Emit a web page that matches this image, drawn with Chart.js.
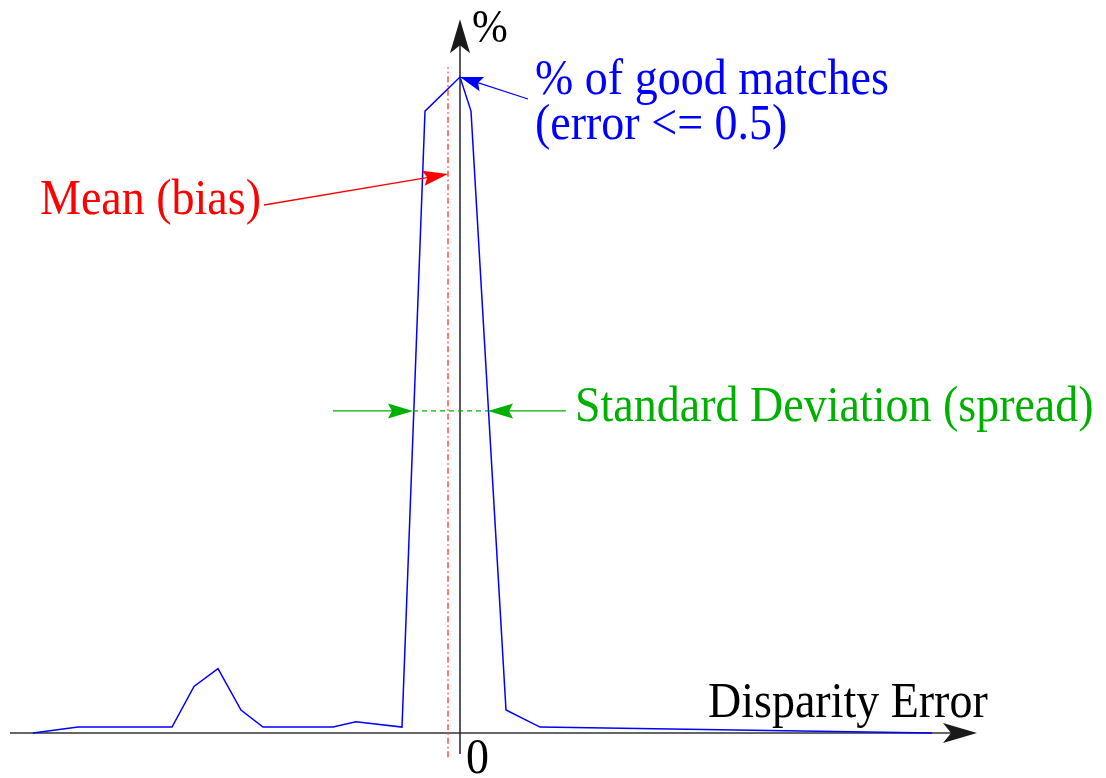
<!DOCTYPE html>
<html>
<head>
<meta charset="utf-8">
<script src="https://cdn.jsdelivr.net/npm/chart.js@4"></script>
<style>
  body { margin: 0; background: #fff; }
  canvas { display: block; }
</style>
</head>
<body>
<canvas id="histChart" width="1106" height="778"></canvas>
<script>
// histogram of disparity error (normalised, peak = 100)
const disparityError = [-42.7, -38.2, -28.8, -26.6, -24.2, -21.9, -19.7, -12.7, -10.4, -5.8, -3.5, 0, 1.1, 4.6, 8.0, 47.2]
const percentage = [0, 0.9, 0.9, 7.1, 9.8, 3.5, 0.9, 0.9, 1.7, 0.9, 94.8, 100, 94.8, 3.5, 0.9, 0]

const meanBias = -1.2
const meanLine = [-3.7, 101.5]
const meanArrowLevel = 85.2
const spread = [-4.7, 2.8]
const spreadLevel = 49.1

const xRange = [-46, 64.6]
const yRange = [-6.86, 111.74]
const xAxisExtent = [-45, 51.7]
const yAxisExtent = [-3.2, 108.8]

const serif = '"Liberation Serif", "Times New Roman", serif'

function arrowHead(ctx, tipX, tipY, fromX, fromY, len, half, notch, color) {
    const angle = Math.atan2(tipY - fromY, tipX - fromX)
    ctx.save()
    ctx.translate(tipX, tipY)
    ctx.rotate(angle)
    ctx.fillStyle = color
    ctx.beginPath()
    ctx.moveTo(0, 0)
    ctx.lineTo(-len, -half)
    ctx.lineTo(-len + notch, 0)
    ctx.lineTo(-len, half)
    ctx.closePath()
    ctx.fill()
    ctx.restore()
}

function line(ctx, x1, y1, x2, y2, color, width, dash) {
    ctx.save()
    ctx.strokeStyle = color
    ctx.lineWidth = width
    ctx.setLineDash(dash || [])
    ctx.beginPath()
    ctx.moveTo(x1, y1)
    ctx.lineTo(x2, y2)
    ctx.stroke()
    ctx.restore()
}

// text slightly taller than wide, like the original figure
function label(ctx, text, x, y, size, color) {
    ctx.save()
    ctx.font = size + "px " + serif
    ctx.fillStyle = color
    ctx.translate(x, y)
    ctx.scale(1, 1.08)
    ctx.fillText(text, 0, 0)
    ctx.restore()
}

const axesPlugin = {
    id: "axesPlugin",
    beforeDatasetsDraw(chart) {
        const ctx = chart.ctx
        const xs = chart.scales.x
        const ys = chart.scales.y
        const x0 = xs.getPixelForValue(0)
        const y0 = ys.getPixelForValue(0)

        // horizontal axis
        const xl = xs.getPixelForValue(xAxisExtent[0])
        const xr = xs.getPixelForValue(xAxisExtent[1])
        line(ctx, xl, y0, xr - 20, y0, "#333", 1.5)
        arrowHead(ctx, xr, y0, xl, y0, 34, 10, 8, "#1a1a1a")

        // vertical axis
        const yb = ys.getPixelForValue(yAxisExtent[0])
        const yt = ys.getPixelForValue(yAxisExtent[1])
        line(ctx, x0, yb, x0, yt + 20, "#222", 1.5)
        arrowHead(ctx, x0, yt, x0, yb, 34, 10, 8, "#1a1a1a")

        // mean (bias) dash-dot line
        const xm = xs.getPixelForValue(meanBias)
        line(ctx, xm, ys.getPixelForValue(meanLine[0]), xm, ys.getPixelForValue(meanLine[1]), "#ff4d4d", 1.5, [6, 3, 1.5, 3])

        label(ctx, "Disparity Error", 708, 717, 46, "#000")
        label(ctx, "0", 466, 773, 46, "#000")
        label(ctx, "%", 472, 42, 43, "#000")
    },
    afterDatasetsDraw(chart) {
        const ctx = chart.ctx
        const xs = chart.scales.x
        const ys = chart.scales.y

        // % of good matches
        const px = xs.getPixelForValue(0)
        const py = ys.getPixelForValue(100)
        line(ctx, 528, 99, px + 10, py + 3, "#0000ff", 1.3)
        arrowHead(ctx, px, py, 528, 99, 23, 7.5, 4, "#0000ff")

        // mean (bias)
        const mx = xs.getPixelForValue(meanBias)
        const my = ys.getPixelForValue(meanArrowLevel)
        line(ctx, 264, 205, mx - 15, my + 2.5, "#ff0000", 1.3)
        arrowHead(ctx, mx, my, 264, 205, 25, 7.5, 4, "#ff0000")

        // standard deviation (spread)
        const sl = xs.getPixelForValue(spread[0])
        const sr = xs.getPixelForValue(spread[1])
        const sy = ys.getPixelForValue(spreadLevel)
        line(ctx, 333, sy, sl - 15, sy, "#00b000", 1.3)
        arrowHead(ctx, sl, sy, 333, sy, 25, 7.5, 4, "#00b000")
        line(ctx, 566, sy, sr + 15, sy, "#00b000", 1.3)
        arrowHead(ctx, sr, sy, 566, sy, 25, 7.5, 4, "#00b000")
        line(ctx, sl, sy, sr, sy, "#00b000", 1.3, [5, 4])

        label(ctx, "% of good matches", 535, 94, 46, "#0000ff")
        label(ctx, "(error <= 0.5)", 535, 139, 46, "#0000ff")
        label(ctx, "Mean (bias)", 40, 214, 46, "#ff0000")
        label(ctx, "Standard Deviation (spread)", 575, 421, 46, "#00b000")
    }
}

function main() {
    const points = disparityError.map((x, i) => ({ x: x, y: percentage[i] }))

    new Chart(document.getElementById("histChart"), {
        type: "scatter",
        data: {
            datasets: [
                {
                    data: points,
                    showLine: true,
                    borderColor: "#0000ff",
                    borderWidth: 1.5,
                    pointRadius: 0,
                    tension: 0,
                    clip: false,
                },
            ],
        },
        options: {
            responsive: false,
            animation: false,
            layout: { padding: 0 },
            plugins: {
                legend: { display: false },
                tooltip: { enabled: false },
            },
            scales: {
                x: { type: "linear", display: false, min: xRange[0], max: xRange[1] },
                y: { type: "linear", display: false, min: yRange[0], max: yRange[1] },
            },
        },
        plugins: [axesPlugin],
    })
}

document.addEventListener("DOMContentLoaded", main)
</script>
</body>
</html>
